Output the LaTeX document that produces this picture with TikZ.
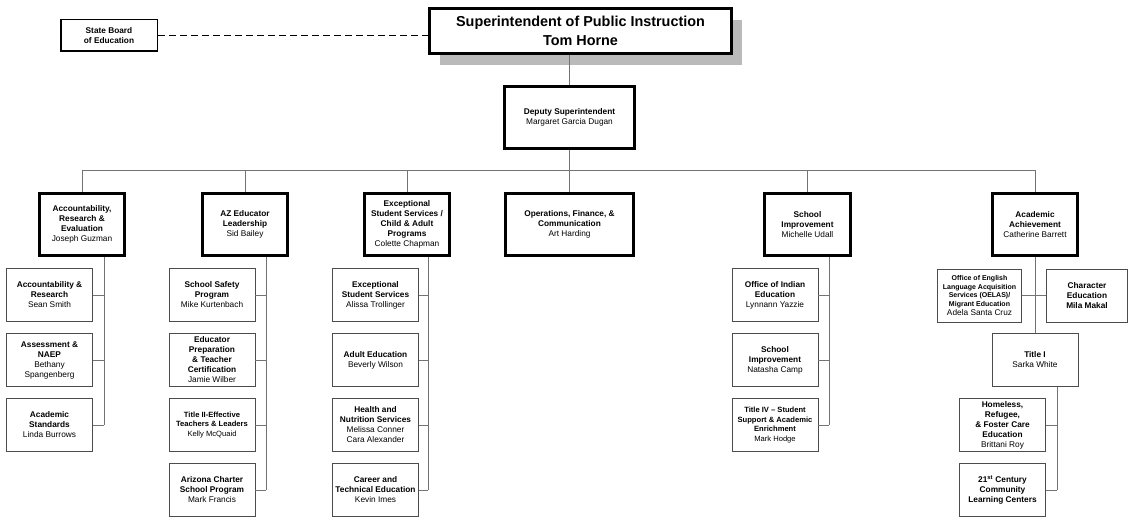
\documentclass[tikz,border=0pt]{standalone}
\usepackage{fontspec}
\setmainfont{Liberation Sans}
\usepackage{tikz}
\usetikzlibrary{positioning, shadows}
\newcommand{\boxfont}{\fontsize{8.3}{10}\selectfont\bfseries}
\newcommand{\who}[1]{{\mdseries #1}}
\tikzset{
	head/.style = {draw, line width=2.6pt, fill=white, align=center, inner sep=1pt,
		minimum width=85.5pt, minimum height=62.5pt, font=\boxfont},
	unit/.style = {draw=black!70, line width=0.8pt, fill=white, align=center, inner sep=1pt,
		minimum width=86pt, minimum height=53pt, font=\boxfont},
	link/.style = {draw=black!55, line width=0.8pt}
}

\begin{document}
\begin{tikzpicture}[x=1pt, y=-1pt, on grid, node distance=65pt]
	\path[fill=white, use as bounding box] (0,0) rectangle (1129,519);

	% top of the chart
	\node (sup) [head, minimum width=302pt, minimum height=45pt, line width=2.8pt,
		font=\fontsize{14.4}{19}\selectfont\bfseries,
		drop shadow={shadow xshift=10pt, shadow yshift=-12pt, fill=black!27, opacity=1}]
		at (580.5,31) {Superintendent of Public Instruction\\Tom Horne};
	\node (sbe) [head, minimum width=96.5pt, minimum height=31.5pt, line width=1.5pt]
		at (109,35.5) {State Board\\of Education};
	\node (dep) [head, minimum width=130.5pt] at (569.5,117.5) {Deputy Superintendent\\\who{Margaret Garcia Dugan}};

	% divisions
	\node (acc) [head] at (82,224.5) {Accountability,\\Research \&\\Evaluation\\\who{Joseph Guzman}};
	\node (aze) [head] at (245,224.5) {AZ Educator\\Leadership\\\who{Sid Bailey}};
	\node (ess) [head] at (407,224.5) {Exceptional\\Student Services /\\Child \& Adult\\Programs\\\who{Colette Chapman}};
	\node (ops) [head, minimum width=128.5pt] at (569.5,224.5) {Operations, Finance, \&\\Communication\\\who{Art Harding}};
	\node (sch) [head] at (807.5,224.5) {School\\Improvement\\\who{Michelle Udall}};
	\node (aca) [head] at (1035,224.5) {Academic\\Achievement\\\who{Catherine Barrett}};

	% units
	\node (acc1) [unit] at (49.5,295) {Accountability \&\\Research\\\who{Sean Smith}};
	\node (acc2) [unit, below = of acc1] {Assessment \&\\NAEP\\\who{Bethany}\\\who{Spangenberg}};
	\node (acc3) [unit, below = of acc2] {Academic\\Standards\\\who{Linda Burrows}};

	\node (aze1) [unit] at (212,295) {School Safety\\Program\\\who{Mike Kurtenbach}};
	\node (aze2) [unit, below = of aze1] {Educator\\Preparation\\\& Teacher\\Certification\\\who{Jamie Wilber}};
	\node (aze3) [unit, below = of aze2, font=\fontsize{7.6}{9.5}\selectfont\bfseries] {Title II-Effective\\Teachers \& Leaders\\\who{Kelly McQuaid}};
	\node (aze4) [unit, below = of aze3] {Arizona Charter\\School Program\\\who{Mark Francis}};

	\node (ess1) [unit] at (375.5,295) {Exceptional\\Student Services\\\who{Alissa Trollinger}};
	\node (ess2) [unit, below = of ess1] {Adult Education\\\who{Beverly Wilson}};
	\node (ess3) [unit, below = of ess2] {Health and\\Nutrition Services\\\who{Melissa Conner}\\\who{Cara Alexander}};
	\node (ess4) [unit, below = of ess3] {Career and\\Technical Education\\\who{Kevin Imes}};

	\node (sch1) [unit] at (775,295) {Office of Indian\\Education\\\who{Lynnann Yazzie}};
	\node (sch2) [unit, below = of sch1] {School\\Improvement\\\who{Natasha Camp}};
	\node (sch3) [unit, below = of sch2, font=\fontsize{7.6}{9.5}\selectfont\bfseries] {Title IV -- Student\\Support \& Academic\\Enrichment\\\who{Mark Hodge}};

	\node (ela) [unit, minimum width=84pt, font=\fontsize{7}{8.7}\selectfont\bfseries] at (979.5,295.5)
		{Office of English\\Language Acquisition\\Services (OELAS)/\\Migrant Education\\{\fontsize{8.3}{10}\selectfont\mdseries Adela Santa Cruz}};
	\node (chr) [unit, minimum width=81pt] at (1087,295.5) {Character\\Education\\Mila Makal};
	\node (tt1) [unit] at (1035,360) {Title I\\\who{Sarka White}};
	\node (hmr) [unit] at (1002.5,425) {Homeless,\\Refugee,\\\& Foster Care\\Education\\\who{Brittani Roy}};
	\node (ccl) [unit, below = of hmr] {21\textsuperscript{st} Century\\Community\\Learning Centers};

	% connectors
	\draw[line width=1pt, dash pattern=on 7pt off 4pt] (sbe.east) -- (sbe.east -| sup.west);
	\path[link] (sup.south -| dep.north) edge (dep.north);
	\coordinate (bar) at (0,170);
	\draw[link] (dep.south) -- (dep.south |- bar);
	\draw[link] (acc.north) -- (acc.north |- bar) -- (aca.north |- bar) -- (aca.north);
	\foreach \h in {aze,ess,ops,sch}
		\draw[link] (\h.north) -- (\h.north |- bar);

	\coordinate (accS) at (104,0);
	\coordinate (azeS) at (266,0);
	\coordinate (essS) at (428,0);
	\coordinate (schS) at (829,0);
	\coordinate (tt1S) at (1057,0);
	\draw[link] (acc.south -| accS) -- (acc3.east -| accS);
	\draw[link] (aze.south -| azeS) -- (aze4.east -| azeS);
	\draw[link] (ess.south -| essS) -- (ess4.east -| essS);
	\draw[link] (sch.south -| schS) -- (sch3.east -| schS);
	\draw[link] (tt1.south -| tt1S) -- (ccl.east -| tt1S);
	\foreach \n/\s in {acc1/accS, acc2/accS, acc3/accS, aze1/azeS, aze2/azeS, aze3/azeS, aze4/azeS,
		ess1/essS, ess2/essS, ess3/essS, ess4/essS, sch1/schS, sch2/schS, sch3/schS, hmr/tt1S, ccl/tt1S}
		\draw[link] (\n.east) -- (\n.east -| \s);
	\draw[link] (aca.south) -- (tt1.north);
	\draw[link] (ela.east) -- (chr.west);
\end{tikzpicture}
\end{document}
